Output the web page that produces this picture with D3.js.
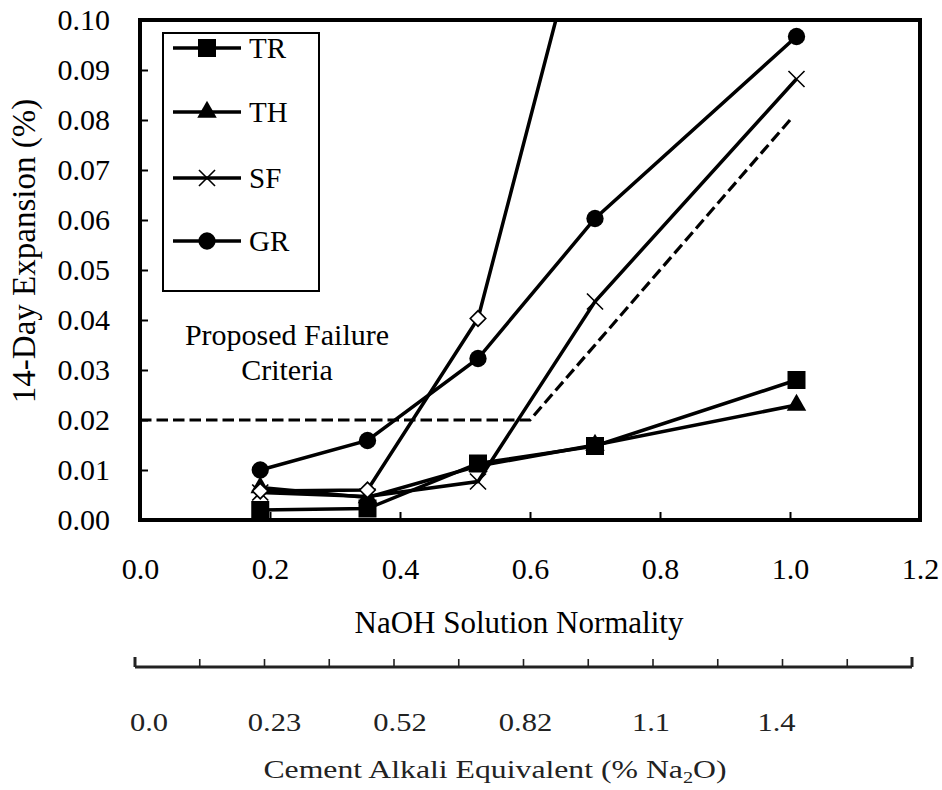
<!DOCTYPE html>
<html>
<head>
<meta charset="utf-8">
<script src="https://cdn.jsdelivr.net/npm/d3@7"></script>
<style>
    body { margin: 0; background: #fff; }
    text { font-family: "Liberation Serif", "Times New Roman", serif; fill: #000; }
</style>
</head>
<body>
<div id="chart"></div>
<script>
// NaOH normality of the test solutions
const normality = [0.185, 0.35, 0.52, 0.70, 1.01];

// 14-day expansion (%)
const trValues = [0.0020, 0.0023, 0.0113, 0.0148, 0.0280];
const thValues = [0.0065, 0.0045, 0.0108, 0.0150, 0.0230];
const sfValues = [0.0055, 0.0047, 0.0077, 0.0437, 0.0882];
const grValues = [0.0100, 0.0159, 0.0323, 0.0603, 0.0967];
// unlabelled series (open diamonds), runs off the top of the chart
const diamondValues = [0.0058, 0.0060, 0.0403, 0.1300];

// proposed failure criteria (dashed)
const criteriaX = [0.0, 0.6, 1.0];
const criteriaY = [0.02, 0.02, 0.08];

const xTicks = [0, 0.2, 0.4, 0.6, 0.8, 1.0, 1.2];
const yTicks = [0, 0.01, 0.02, 0.03, 0.04, 0.05, 0.06, 0.07, 0.08, 0.09, 0.10];

// secondary scale: cement alkali equivalent
const alkaliLabels = ["0.0", "0.23", "0.52", "0.82", "1.1", "1.4"];
const alkaliTickCount = 13;

const legendNames = ["TR", "TH", "SF", "GR"];

(function draw() {
    const width = 942, height = 790;
    const margin = { top: 20, right: 22, bottom: 270, left: 140 };

    const svg = d3.select("#chart")
        .append("svg")
        .attr("width", width)
        .attr("height", height);

    const x = d3.scaleLinear().domain([0, 1.2]).range([margin.left, width - margin.right]);
    const y = d3.scaleLinear().domain([0, 0.1]).range([height - margin.bottom, margin.top]);

    svg.append("clipPath").attr("id", "plot-clip")
        .append("rect")
        .attr("x", x(0)).attr("y", y(0.1))
        .attr("width", x(1.2) - x(0)).attr("height", y(0) - y(0.1));

    //axes (ticks point inward)
    const yAxis = d3.axisLeft(y)
        .tickValues(yTicks)
        .tickSizeInner(-8)
        .tickSizeOuter(0)
        .tickPadding(30)
        .tickFormat(d3.format(".2f"));
    const gy = svg.append("g")
        .attr("transform", `translate(${x(0)},0)`)
        .call(yAxis);
    gy.select(".domain").remove();
    gy.selectAll("line").attr("stroke", "#000").attr("stroke-width", 2)
        .filter(d => d === 0 || d === 0.1).remove();
    gy.selectAll("text")
        .style("font-size", "30px")
        .attr("font-family", null);

    const xAxis = d3.axisBottom(x)
        .tickValues(xTicks)
        .tickSizeInner(-8)
        .tickSizeOuter(0)
        .tickPadding(38)
        .tickFormat(d3.format(".1f"));
    const gx = svg.append("g")
        .attr("transform", `translate(0,${y(0)})`)
        .call(xAxis);
    gx.select(".domain").remove();
    gx.selectAll("line").attr("stroke", "#000").attr("stroke-width", 2)
        .filter(d => d === 0 || d === 1.2).remove();
    gx.selectAll("text")
        .style("font-size", "30px")
        .attr("font-family", null);

    //frame
    svg.append("rect")
        .attr("x", x(0)).attr("y", y(0.1))
        .attr("width", x(1.2) - x(0)).attr("height", y(0) - y(0.1))
        .attr("fill", "none")
        .attr("stroke", "#000")
        .attr("stroke-width", 4);

    //axis titles
    svg.append("text")
        .attr("transform", `translate(35,${(y(0) + y(0.1)) / 2 - 19}) rotate(-90)`)
        .attr("text-anchor", "middle")
        .style("font-size", "33px")
        .text("14-Day Expansion (%)");

    svg.append("text")
        .attr("x", 519).attr("y", 633)
        .attr("text-anchor", "middle")
        .style("font-size", "31px")
        .text("NaOH Solution Normality");

    //failure criteria label
    const crit = svg.append("text")
        .attr("text-anchor", "middle")
        .style("font-size", "30px");
    crit.append("tspan").attr("x", 287).attr("y", 345).text("Proposed Failure");
    crit.append("tspan").attr("x", 287).attr("y", 380).text("Criteria");

    const plot = svg.append("g").attr("clip-path", "url(#plot-clip)");

    const line = d3.line().x(d => x(d[0])).y(d => y(d[1]));

    plot.append("path")
        .attr("d", line(d3.zip(criteriaX, criteriaY)))
        .attr("fill", "none")
        .attr("stroke", "#000")
        .attr("stroke-width", 3.2)
        .attr("stroke-dasharray", "11.5,5");

    const series = [
        { name: "TR", values: trValues, symbol: d3.symbolSquare, size: 324, filled: true },
        { name: "TH", values: thValues, symbol: d3.symbolTriangle, size: 165, filled: true },
        { name: "SF", values: sfValues, symbol: d3.symbolTimes, size: 170, filled: false },
        { name: "GR", values: grValues, symbol: d3.symbolCircle, size: 235, filled: true },
        { name: "diamond", values: diamondValues, symbol: d3.symbolSquare, size: 120, filled: false, rotate: 45 }
    ];

    series.forEach(s => {
        const pts = s.values.map((v, i) => [normality[i], v]);
        plot.append("path")
            .attr("d", line(pts))
            .attr("fill", "none")
            .attr("stroke", "#000")
            .attr("stroke-width", 3.5);
    });

    series.forEach(s => {
        const pts = s.values.map((v, i) => [normality[i], v]).filter(d => d[1] <= 0.1);
        plot.selectAll(null)
            .data(pts)
            .enter()
            .append("path")
            .attr("d", d3.symbol(s.symbol, s.size))
            .attr("transform", d => `translate(${x(d[0])},${y(d[1])})` + (s.rotate ? ` rotate(${s.rotate})` : ""))
            .attr("fill", s.filled ? "#000" : "#fff")
            .attr("stroke", "#000")
            .attr("stroke-width", s.filled ? 0 : 1.6);
    });

    //legend
    const legend = svg.append("g");
    legend.append("rect")
        .attr("x", 163).attr("y", 33)
        .attr("width", 156).attr("height", 258)
        .attr("fill", "#fff")
        .attr("stroke", "#000")
        .attr("stroke-width", 2);

    const legendRows = [48, 112, 178, 241];
    series.slice(0, 4).forEach((s, i) => {
        const row = legend.append("g").attr("transform", `translate(0,${legendRows[i]})`);
        row.append("line")
            .attr("x1", 173).attr("x2", 241)
            .attr("stroke", "#000").attr("stroke-width", 3.5);
        row.append("path")
            .attr("d", d3.symbol(s.symbol, s.size))
            .attr("transform", "translate(207,0)")
            .attr("fill", s.filled ? "#000" : "#fff")
            .attr("stroke", "#000")
            .attr("stroke-width", s.filled ? 0 : 1.6);
        row.append("text")
            .attr("x", 249).attr("y", 10)
            .style("font-size", "29px")
            .text(legendNames[i]);
    });

    //secondary axis: cement alkali equivalent
    const alk = d3.scaleLinear().domain([0, alkaliTickCount - 1]).range([135, 912]);
    const sec = svg.append("g");
    sec.append("line")
        .attr("x1", alk(0)).attr("x2", alk(alkaliTickCount - 1))
        .attr("y1", 667).attr("y2", 667)
        .attr("stroke", "#222").attr("stroke-width", 3);
    sec.selectAll(".atick")
        .data(d3.range(alkaliTickCount))
        .enter()
        .append("line")
        .attr("class", "atick")
        .attr("x1", d => alk(d)).attr("x2", d => alk(d))
        .attr("y1", 667).attr("y2", d => (d === 0 || d === alkaliTickCount - 1) ? 657 : 659)
        .attr("stroke", "#222")
        .attr("stroke-width", d => (d === 0 || d === alkaliTickCount - 1) ? 3 : 1.6);

    sec.selectAll(".alabel")
        .data(alkaliLabels)
        .enter()
        .append("text")
        .attr("class", "alabel")
        .attr("transform", (d, i) => `translate(${alk(i * 2) + 14 - i * 4},731) scale(1.22,1)`)
        .attr("text-anchor", "middle")
        .style("font-size", "25px")
        .style("fill", "#222")
        .text(d => d);

    const cement = svg.append("text")
        .attr("transform", "translate(495,778) scale(1.27,1)")
        .attr("text-anchor", "middle")
        .style("font-size", "25px")
        .style("fill", "#222");
    cement.append("tspan").text("Cement Alkali Equivalent (% Na");
    cement.append("tspan").attr("dy", 5).style("font-size", "16px").text("2");
    cement.append("tspan").attr("dy", -5).text("O)");
})();
</script>
</body>
</html>
